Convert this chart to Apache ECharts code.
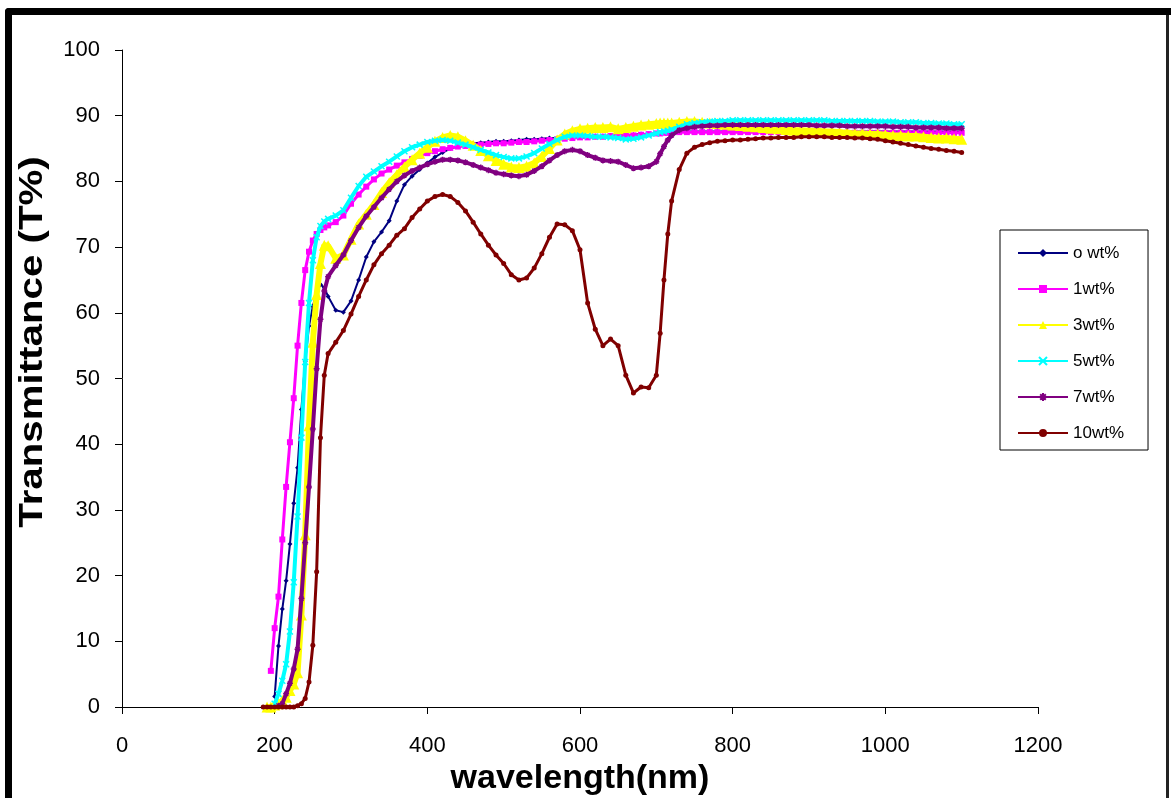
<!DOCTYPE html>
<html><head><meta charset="utf-8">
<script src="https://cdn.jsdelivr.net/npm/echarts@6/dist/echarts.min.js"></script>
<style>html,body{margin:0;padding:0;background:#fff}#c{width:1171px;height:798px}</style>
</head><body><div id="c"></div>
<script>
// wavelength grid (nm)
const wavelengths = [185,190,195,200,205,210,215,220,225,230,235,240,245,250,255,260,265,
  270,280,290,300,310,320,330,340,350,360,370,380,390,400,410,420,430,440,450,460,470,480,490,500,
  510,520,530,540,550,560,570,580,590,600,610,620,630,640,650,660,670,680,690,700,
  705,710,715,720,
  730,740,750,760,770,780,790,800,810,820,830,840,850,860,870,880,890,900,910,920,930,940,950,960,970,980,990,1000,
  1010,1020,1030,1040,1050,1060,1070,1080,1090,1100];

const seriesNames = ['o wt%','1wt%','3wt%','5wt%','7wt%','10wt%'];

const t0 = [null,null,null,1.6,9.3,14.9,19.2,24.8,31,36.4,45.3,52.6,58,61,63.1,64.3,63.8,
  62.5,60.4,60.1,61.8,65,68.5,70.8,72.3,74,77,79.5,80.8,81.8,82.8,83.7,84.4,85,85.3,85.6,85.8,85.9,86,86.1,86.1,
  86.2,86.3,86.4,86.4,86.5,86.6,86.6,86.7,86.7,86.8,86.8,86.9,86.9,87,87,87.1,87.1,87.2,87.2,87.3,
  87.3,87.4,87.4,87.5,
  87.6,87.6,87.6,87.6,87.6,87.6,87.6,87.6,87.6,87.6,87.6,87.6,87.6,87.6,87.6,87.6,87.6,87.6,87.6,87.6,87.6,87.6,87.6,87.6,87.6,87.6,87.6,87.6,
  87.6,87.6,87.6,87.6,87.6,87.6,87.6,87.6,87.6,87.6];

const t1 = [null,null,5.5,12,16.8,25.5,33.5,40.3,47,55,61.5,66.5,69.3,71,72,72.6,73,
  73.3,73.8,74.8,76.6,78,79.2,80.3,81.2,81.8,82.4,82.9,83.4,83.9,84.3,84.6,84.9,85.1,85.3,85.4,85.5,85.6,85.7,85.8,85.8,
  85.9,86,86,86.1,86.2,86.3,86.4,86.5,86.6,86.7,86.7,86.8,86.8,86.9,86.9,87,87,87.1,87.2,87.3,
  87.3,87.4,87.4,87.5,
  87.5,87.5,87.5,87.5,87.5,87.5,87.5,87.5,87.5,87.5,87.5,87.5,87.5,87.5,87.5,87.5,87.5,87.5,87.4,87.4,87.4,87.4,87.4,87.4,87.4,87.4,87.4,87.4,
  87.4,87.4,87.4,87.4,87.4,87.4,87.4,87.4,87.4,87.4];

const t3 = [null,0,0,0.3,0.5,1,1.5,2.5,3.5,5.2,14,26.2,42.8,55.5,62.8,67.5,70.3,
  70.2,68.3,68.8,71.2,73.5,75,76.5,78.3,79.8,81,82.2,83.3,84.3,85.2,86.1,86.7,87,86.8,86.2,85.5,84.7,83.9,83.2,82.6,
  82.2,82.1,82.3,82.8,83.8,85,86.3,87.2,87.7,88,88.1,88.2,88.2,88.3,88,88.2,88.4,88.6,88.7,88.8,
  88.9,88.9,88.9,88.9,
  89,89.1,89.1,89,88.9,88.8,88.7,88.6,88.5,88.4,88.3,88.2,88.1,88,87.9,87.8,87.8,87.7,87.7,87.6,87.6,87.5,87.4,87.3,87.3,87.2,87.2,87.1,
  87,87,86.9,86.9,86.8,86.7,86.6,86.6,86.5,86.4];

const t5 = [null,null,null,0.5,2,4,6.5,11.5,19,29,41,52.5,61.5,68,71.5,73.2,73.9,
  74.3,74.8,75.6,77.5,79.3,80.7,81.5,82.3,83,83.8,84.6,85.2,85.6,86,86.2,86.3,86.2,85.9,85.6,85.2,84.8,84.4,84,83.7,
  83.5,83.5,83.8,84.3,85,85.7,86.3,86.8,87,87,86.9,86.8,86.8,86.7,86.6,86.4,86.5,86.7,87,87.3,
  87.5,87.6,87.7,87.9,
  88.3,88.7,88.9,89,89.1,89.2,89.2,89.3,89.3,89.3,89.3,89.3,89.3,89.3,89.3,89.3,89.3,89.3,89.3,89.3,89.2,89.2,89.2,89.2,89.2,89.2,89.1,89.1,
  89.1,89,89,89,88.9,88.9,88.8,88.8,88.7,88.7];

const t7 = [null,null,null,null,0.2,0.5,2,3.6,5.8,8.8,16.5,25,33.5,42.3,51.5,59,63.3,
  65.5,67.2,68.8,71,73,74.7,76.1,77.5,78.8,80,80.9,81.6,82.1,82.6,83,83.3,83.3,83.2,82.9,82.5,82.1,81.7,81.3,81.1,
  80.9,80.8,81,81.6,82.3,83.2,84,84.6,84.8,84.6,84,83.6,83.2,83.1,83,82.5,82,82.1,82.3,83,
  84.2,85.3,86.3,87,
  87.8,88.1,88.3,88.4,88.5,88.5,88.6,88.6,88.6,88.6,88.6,88.6,88.6,88.6,88.6,88.6,88.6,88.6,88.5,88.5,88.5,88.5,88.4,88.4,88.4,88.4,88.4,88.4,
  88.3,88.3,88.3,88.2,88.2,88.2,88.2,88.1,88.1,88.1];

const t10 = [0,0,0,0,0,0,0,0,0,0.2,0.5,1.3,3.8,9.4,20.6,41,50.5,
  53.8,55.5,57.3,59.8,62.5,65,67.3,69,70.3,71.8,72.8,74.5,75.8,77,77.7,78,77.7,76.8,75.5,73.8,72,70.3,68.8,67.5,
  65.8,65,65.3,66.8,69,71.5,73.5,73.4,72.5,69.6,61.5,57.5,55,56,55,50.5,47.8,48.7,48.6,50.5,
  56.9,65,72,77,
  81.8,84.3,85.2,85.6,85.9,86.1,86.2,86.3,86.3,86.4,86.5,86.6,86.6,86.7,86.7,86.7,86.8,86.8,86.8,86.8,86.7,86.7,86.7,86.6,86.6,86.5,86.4,86.2,
  86,85.8,85.6,85.4,85.2,85,84.9,84.7,84.6,84.4];

const xTickInterval = 200, yTickInterval = 10;

function pairs(vals) {
  const out = [];
  vals.forEach((v, i) => { if (v !== null) out.push([wavelengths[i], v]); });
  return out;
}

const FONT = 'Liberation Sans';
const styles = [
  {color:'#000080', symbol:'diamond', size:5, lw:2},
  {color:'#FF00FF', symbol:'rect', size:6, lw:3},
  {color:'#FFFF00', symbol:'triangle', size:11, lw:6},
  {color:'#00FFFF', symbol:'path://M0,0L10,10M10,0L0,10', size:6, lw:4, stroke:true},
  {color:'#800080', symbol:'path://M5,0L5,10M0,5L10,5M1.5,1.5L8.5,8.5M8.5,1.5L1.5,8.5', size:6, lw:4, stroke:true},
  {color:'#800000', symbol:'circle', size:5, lw:3}
];
const values = [t0, t1, t3, t5, t7, t10];

const series = values.map((vals, k) => {
  const s = styles[k];
  return {
    name: seriesNames[k],
    type: 'line',
    data: pairs(vals),
    symbol: s.symbol,
    symbolSize: s.size,
    showSymbol: true,
    showAllSymbol: true,
    smooth: false,
    lineStyle: {color: s.color, width: s.lw},
    itemStyle: s.stroke ? {color: s.color, borderColor: s.color, borderWidth: 1.5} : {color: s.color, borderWidth: 0},
    emphasis: {disabled: true},
    z: 2 + k
  };
});

const chart = echarts.init(document.getElementById('c'), null, {renderer: 'canvas'});
chart.setOption({
  animation: false,
  backgroundColor: '#fff',
  grid: {left: 122, right: 133, top: 50, bottom: 91, containLabel: false, outerBoundsMode: 'none'},
  xAxis: {
    type: 'value', min: 0, max: 1200, interval: xTickInterval,
    axisLine: {show: true, onZero: false, lineStyle: {color: '#000', width: 1}},
    axisTick: {show: true, length: 7, lineStyle: {color: '#000', width: 1}},
    axisLabel: {fontSize: 22, color: '#000', fontFamily: FONT, margin: 28, formatter: v => String(v)},
    splitLine: {show: false},
    name: 'wavelength(nm)', nameLocation: 'middle', nameGap: 48,
    nameTextStyle: {fontSize: 34, fontWeight: 'bold', fontFamily: FONT, color: '#000'}
  },
  yAxis: {
    type: 'value', min: 0, max: 100, interval: yTickInterval,
    axisLine: {show: true, onZero: false, lineStyle: {color: '#000', width: 1}},
    axisTick: {show: true, length: 7, lineStyle: {color: '#000', width: 1}},
    axisLabel: {fontSize: 22, color: '#000', fontFamily: FONT, margin: 22, formatter: v => String(v)},
    splitLine: {show: false}
  },
  legend: {
    orient: 'vertical', left: 1000, top: 230,
    padding: [14, 24, 8, 17], itemGap: 18, itemWidth: 50, itemHeight: 10,
    backgroundColor: '#fff', borderColor: '#000', borderWidth: 1,
    textStyle: {fontSize: 17, fontFamily: FONT, color: '#000', lineHeight: 18},
    data: seriesNames
  },
  graphic: [
    {type: 'rect', shape: {x: 5, y: 8, width: 1166, height: 7, r: [4, 0, 0, 0]}, style: {fill: '#000'}, z: 100},
    {type: 'rect', shape: {x: 5, y: 8, width: 7, height: 790, r: [4, 0, 0, 0]}, style: {fill: '#000'}, z: 100},
    {type: 'rect', shape: {x: 1166, y: 15, width: 3, height: 783}, style: {fill: '#222'}, z: 100},
    {type: 'text', x: 33, y: 342, rotation: Math.PI / 2, scaleX: 1.22, scaleY: 1,
     style: {text: 'Transmittance (T%)', fontSize: 33, fontWeight: 'bold', fontFamily: FONT, fill: '#000',
             align: 'center', verticalAlign: 'middle', textAlign: 'center', textVerticalAlign: 'middle'}, z: 100}
  ],
  series: series
});
</script>
</body></html>
